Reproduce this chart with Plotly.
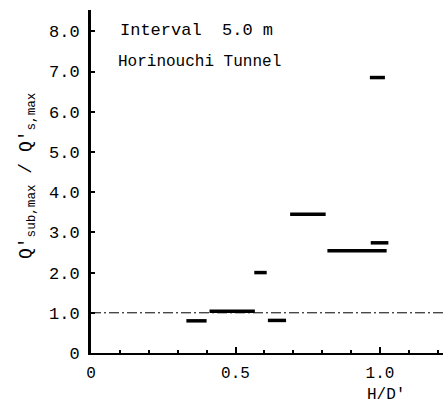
import plotly.graph_objects as go

# segment data: H/D' start, H/D' end, ratio value
x_start = [0.33, 0.41, 0.565, 0.612, 0.689, 0.818, 0.968, 0.965]
x_end   = [0.40, 0.567, 0.608, 0.675, 0.812, 1.023, 1.029, 1.017]
y_vals  = [0.80, 1.04, 2.00, 0.81, 3.45, 2.54, 2.74, 6.85]

ref_y = 1.0
y_tickvals = [0, 1, 2, 3, 4, 5, 6, 7, 8]
y_ticktext = ["0", "1.0", "2.0", "3.0", "4.0", "5.0", "6.0", "7.0", "8.0"]
x_tickvals = [0, 0.5, 1.0]
x_ticktext = ["0", "0.5", "1.0"]

FONT = "Liberation Mono, Courier New, monospace"

xs, ys = [], []
for a, b, v in zip(x_start, x_end, y_vals):
    xs += [a, b, None]
    ys += [v, v, None]

fig = go.Figure()
fig.add_trace(go.Scatter(x=[0, 1.22], y=[ref_y, ref_y], mode="lines",
                         line=dict(color="black", width=1, dash="10px,3px,2px,3px"),
                         hoverinfo="skip"))
fig.add_trace(go.Scatter(x=xs, y=ys, mode="lines",
                         line=dict(color="black", width=3.5), hoverinfo="skip"))

L, R, T, B, W, H = 91, 4, 10, 54, 447, 407
fig.update_layout(
    width=W, height=H,
    margin=dict(l=L, r=R, t=T, b=B),
    paper_bgcolor="white", plot_bgcolor="white",
    showlegend=False,
    font=dict(family=FONT, size=16, color="black"),
    xaxis=dict(range=[0, 1.218], showgrid=False, zeroline=False,
               showline=True, linecolor="black", linewidth=2,
               tickvals=x_tickvals, ticktext=x_ticktext,
               ticks="inside", ticklen=6, tickwidth=2, tickcolor="black",
               minor=dict(dtick=0.1, tick0=0, ticks="inside", ticklen=3,
                          tickwidth=2, tickcolor="black"),
               tickfont=dict(family=FONT, size=16), ticklabelstandoff=4,
               automargin=False),
    yaxis=dict(range=[0, 8.53], showgrid=False, zeroline=False,
               showline=True, linecolor="black", linewidth=3,
               tickvals=y_tickvals, ticktext=y_ticktext,
               ticks="inside", ticklen=4, tickwidth=1.5, tickcolor="black",
               tickfont=dict(family=FONT, size=17), ticklabelstandoff=5,
               automargin=False),
)

def px_ann(xp, yp, text, xanchor="center", yanchor="middle", angle=0, size=16):
    # position given in pixels of the 447x407 image, converted to paper coords
    xpaper = (xp - L) / (W - L - R)
    ypaper = (H - B - yp) / (H - T - B)
    fig.add_annotation(x=xpaper, y=ypaper, xref="paper", yref="paper", text=text,
                       showarrow=False, xanchor=xanchor, yanchor=yanchor,
                       textangle=angle, font=dict(family=FONT, size=size, color="black"))

px_ann(118, 31, "Interval  5.0 m", xanchor="left", size=17)
px_ann(116, 62, "Horinouchi Tunnel", xanchor="left", size=16)
px_ann(386, 395, "H/D'", size=16)
px_ann(27, 176, "Q'<sub>sub,max</sub> / Q'<sub>s,max</sub>", angle=-90, size=18)

fig.write_html("out.html", config={"displayModeBar": False},
               post_script="document.body.style.margin='0';document.body.style.padding='0';")
